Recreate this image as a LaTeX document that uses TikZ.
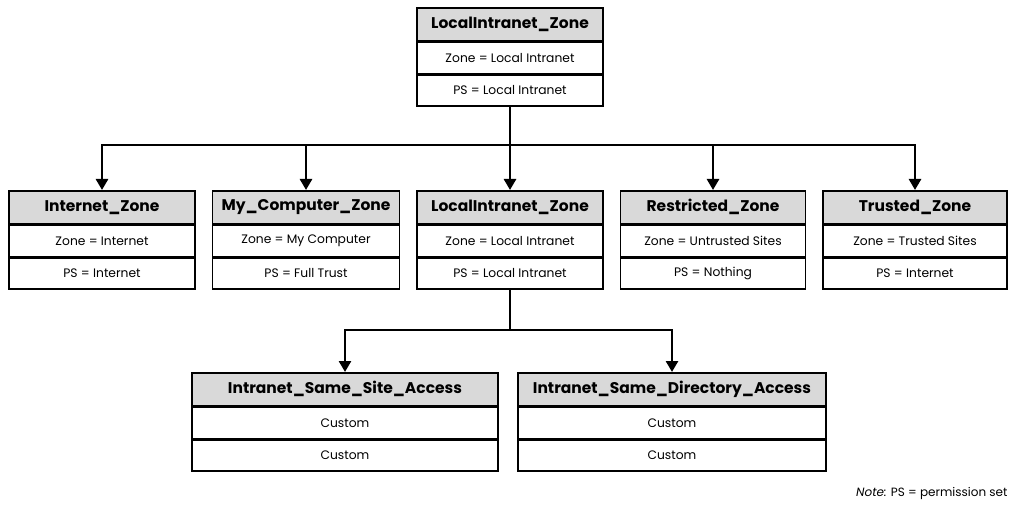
\documentclass[tikz,border=0pt]{standalone}
\usepackage{fontspec}
\setmainfont{Poppins}
\usetikzlibrary{arrows.meta}
\definecolor{hdrgray}{HTML}{D9D9D9}
\tikzset{
  hdr/.style={draw=black, line width=1.6pt, fill=hdrgray, minimum height=33pt, inner sep=0pt, anchor=north, font=\fontsize{15.5}{15.5}\selectfont\bfseries},
  row/.style={draw=black, line width=1.6pt, fill=white, minimum height=31pt, inner sep=0pt, anchor=north, font=\fontsize{12.3}{12.3}\selectfont},
  conn/.style={line width=2.6pt, line cap=rect},
  arr/.style={conn, -{Triangle[length=11pt,width=12pt]}},
}
% name, x-center, y-top, width, title, row1, row2
\newcommand{\zbox}[7]{%
  \node[hdr, minimum width=#4pt] (#1) at (#2pt,-#3pt) {#5};
  \node[row, minimum width=#4pt] (#1-a) at (#1.south) {#6};
  \node[row, minimum width=#4pt] (#1-b) at (#1-a.south) {#7};
}
\begin{document}
\begin{tikzpicture}[x=1pt,y=1pt]
\useasboundingbox (0,0) rectangle (1012,-513);
\zbox{top}{510}{7}{186}{LocalIntranet\_Zone}{Zone = Local Intranet}{PS = Local Intranet}
\zbox{inet}{102}{190}{186}{Internet\_Zone}{Zone = Internet}{PS = Internet}
\zbox{myc}{306}{190}{187}{My\_Computer\_Zone}{Zone = My Computer}{PS = Full Trust}
\zbox{loc}{510}{190}{186}{LocalIntranet\_Zone}{Zone = Local Intranet}{PS = Local Intranet}
\zbox{res}{713}{190}{185}{Restricted\_Zone}{Zone = Untrusted Sites}{PS = Nothing}
\zbox{tru}{915}{190}{184}{Trusted\_Zone}{Zone = Trusted Sites}{PS = Internet}
\zbox{site}{345}{372}{306}{Intranet\_Same\_Site\_Access}{Custom}{Custom}
\zbox{dir}{672}{372}{308}{Intranet\_Same\_Directory\_Access}{Custom}{Custom}
\coordinate (j1) at (510,-145);
\coordinate (j2) at (510,-330);
\draw[conn] (top-b.south) -- (j1);
\draw[arr] (j1) -| (inet.north);
\draw[arr] (j1) -| (myc.north);
\draw[arr] (j1) -- (loc.north);
\draw[arr] (j1) -| (res.north);
\draw[arr] (j1) -| (tru.north);
\draw[conn] (loc-b.south) -- (j2);
\draw[arr] (j2) -| (site.north);
\draw[arr] (j2) -| (dir.north);
\node[anchor=east, font=\fontsize{12}{12}\selectfont] (note) at (1011,-493) {\textit{Note:} PS = permission set};
\end{tikzpicture}
\end{document}
